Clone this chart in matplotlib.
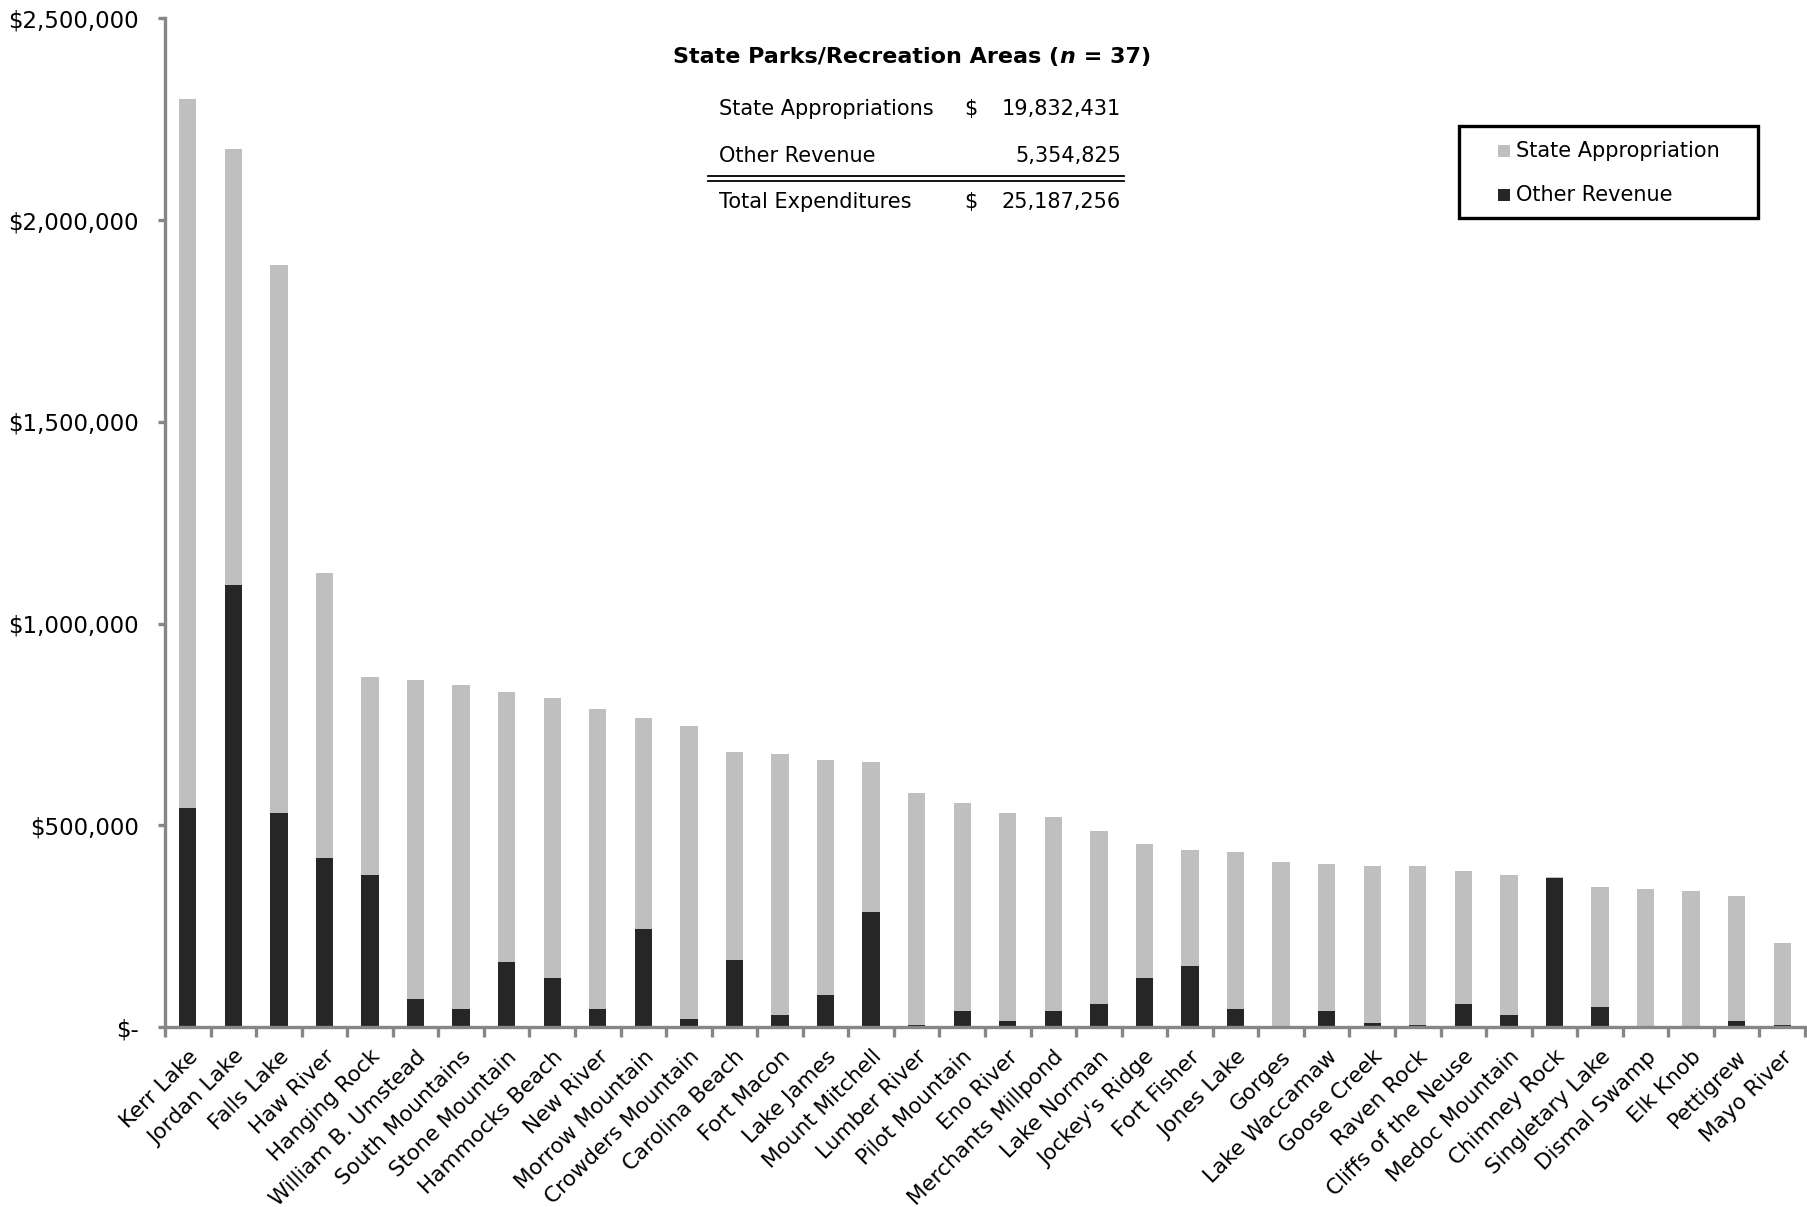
import matplotlib
matplotlib.use("Agg")
import matplotlib.pyplot as plt
from matplotlib.lines import Line2D
from matplotlib.patches import Rectangle
from matplotlib.ticker import FuncFormatter, FixedLocator
import numpy as np

plt.rcParams["font.family"] = ["DejaVu Sans"]

parks = [
    "Kerr Lake", "Jordan Lake", "Falls Lake", "Haw River", "Hanging Rock",
    "William B. Umstead", "South Mountains", "Stone Mountain", "Hammocks Beach",
    "New River", "Morrow Mountain", "Crowders Mountain", "Carolina Beach",
    "Fort Macon", "Lake James", "Mount Mitchell", "Lumber River", "Pilot Mountain",
    "Eno River", "Merchants Millpond", "Lake Norman", "Jockey's Ridge",
    "Fort Fisher", "Jones Lake", "Gorges", "Lake Waccamaw", "Goose Creek",
    "Raven Rock", "Cliffs of the Neuse", "Medoc Mountain", "Chimney Rock",
    "Singletary Lake", "Dismal Swamp", "Elk Knob", "Pettigrew", "Mayo River",
]
# dollars (in thousands, then scaled)
state_approp = np.array([
    1756, 1081, 1357, 704, 491, 792, 802, 669, 694, 742, 525, 726, 516, 646,
    582, 371, 573, 516, 515, 482, 429, 332, 289, 390, 410, 366, 390, 396, 328,
    346, 2, 299, 343, 338, 309, 205,
]) * 1000
other_rev = np.array([
    544, 1096, 531, 420, 376, 69, 45, 161, 121, 45, 242, 21, 165, 30, 79, 285,
    6, 39, 16, 39, 58, 121, 150, 44, 0, 39, 10, 4, 58, 30, 370, 49, 0, 0, 15, 4,
]) * 1000

table_rows = ["State Appropriations", "Other Revenue", "Total Expenditures"]
table_dollar = ["$", "", "$"]
table_vals = ["19,832,431", "5,354,825", "25,187,256"]
legend_labels = ["State Appropriation", "Other Revenue"]

GRAY = "#bfbfbf"
DARK = "#262626"
AXIS = "#868686"

W, H = 1807, 1207
fig = plt.figure(figsize=(W / 100, H / 100), dpi=100)
x0, x1, y0, y1 = 165, 1805, 1027, 18.3
ax = fig.add_axes([x0 / W, 1 - y0 / H, (x1 - x0) / W, (y0 - y1) / H])

x = np.arange(len(parks))
bw = 0.38
ax.bar(x, other_rev, bw, color=DARK, zorder=2)
ax.bar(x, state_approp, bw, bottom=other_rev, color=GRAY, zorder=2)

ax.set_xlim(-0.5, len(parks) - 0.5)
ax.set_ylim(0, 2500000)
ax.set_yticks(np.arange(0, 2500001, 500000))
ax.yaxis.set_major_formatter(
    FuncFormatter(lambda v, p: "$-" if v == 0 else f"${v:,.0f}"))

for s in ["top", "right"]:
    ax.spines[s].set_visible(False)
for s in ["left", "bottom"]:
    ax.spines[s].set_color(AXIS)
    ax.spines[s].set_linewidth(2.4)

ax.tick_params(axis="y", direction="out", length=5, width=2.4, color=AXIS,
               labelsize=16.5, pad=14, labelcolor="black")
ax.set_xticks(x)
ax.set_xticklabels(parks, rotation=45, ha="right", rotation_mode="anchor",
                   fontsize=15.5)
ax.tick_params(axis="x", length=0, pad=14)
ax.xaxis.set_minor_locator(FixedLocator(np.arange(-0.5, len(parks), 1.0)))
ax.tick_params(axis="x", which="minor", direction="out", length=7, width=2.4,
               color=AXIS)

# title with italic n, centred
renderer = fig.canvas.get_renderer()
ty = 1 - 57 / H
parts = [("State Parks/Recreation Areas (", "normal"), ("n", "italic"),
         (" = 37)", "normal")]
texts = []
cur = 0.0
for s, st in parts:
    t = fig.text(cur, ty, s, fontsize=16, fontweight="bold", style=st,
                 va="center", ha="left")
    bb = t.get_window_extent(renderer)
    texts.append(t)
    cur = bb.x1 / W
total_w = cur
start = 912 / W - total_w / 2
pos = start
for t in texts:
    w = t.get_window_extent(renderer).width / W
    t.set_x(pos)
    pos += w

# summary table
row_y = [109, 156, 202]
for label, dol, val, yy in zip(table_rows, table_dollar, table_vals, row_y):
    fig.text(719 / W, 1 - yy / H, label, fontsize=15, va="center", ha="left")
    if dol:
        fig.text(964 / W, 1 - yy / H, dol, fontsize=15, va="center", ha="left")
    fig.text(1121 / W, 1 - yy / H, val, fontsize=15, va="center", ha="right")
for ly in [175.5, 180.5]:
    fig.add_artist(Line2D([708 / W, 1124 / W], [1 - ly / H, 1 - ly / H],
                          color="black", lw=1.3))

# legend box drawn by hand to match placement
fig.add_artist(Rectangle((1459 / W, 1 - 218 / H), 299 / W, 92 / H,
                         transform=fig.transFigure, fill=False,
                         edgecolor="black", lw=2.4))
for lab, col, yy in zip(legend_labels, [GRAY, DARK], [151, 195]):
    fig.add_artist(Rectangle((1498 / W, 1 - (yy + 6) / H), 12 / W, 12 / H,
                             transform=fig.transFigure, color=col, lw=0))
    fig.text(1516 / W, 1 - yy / H, lab, fontsize=15, va="center", ha="left")

fig.savefig("out.png", dpi=100)
